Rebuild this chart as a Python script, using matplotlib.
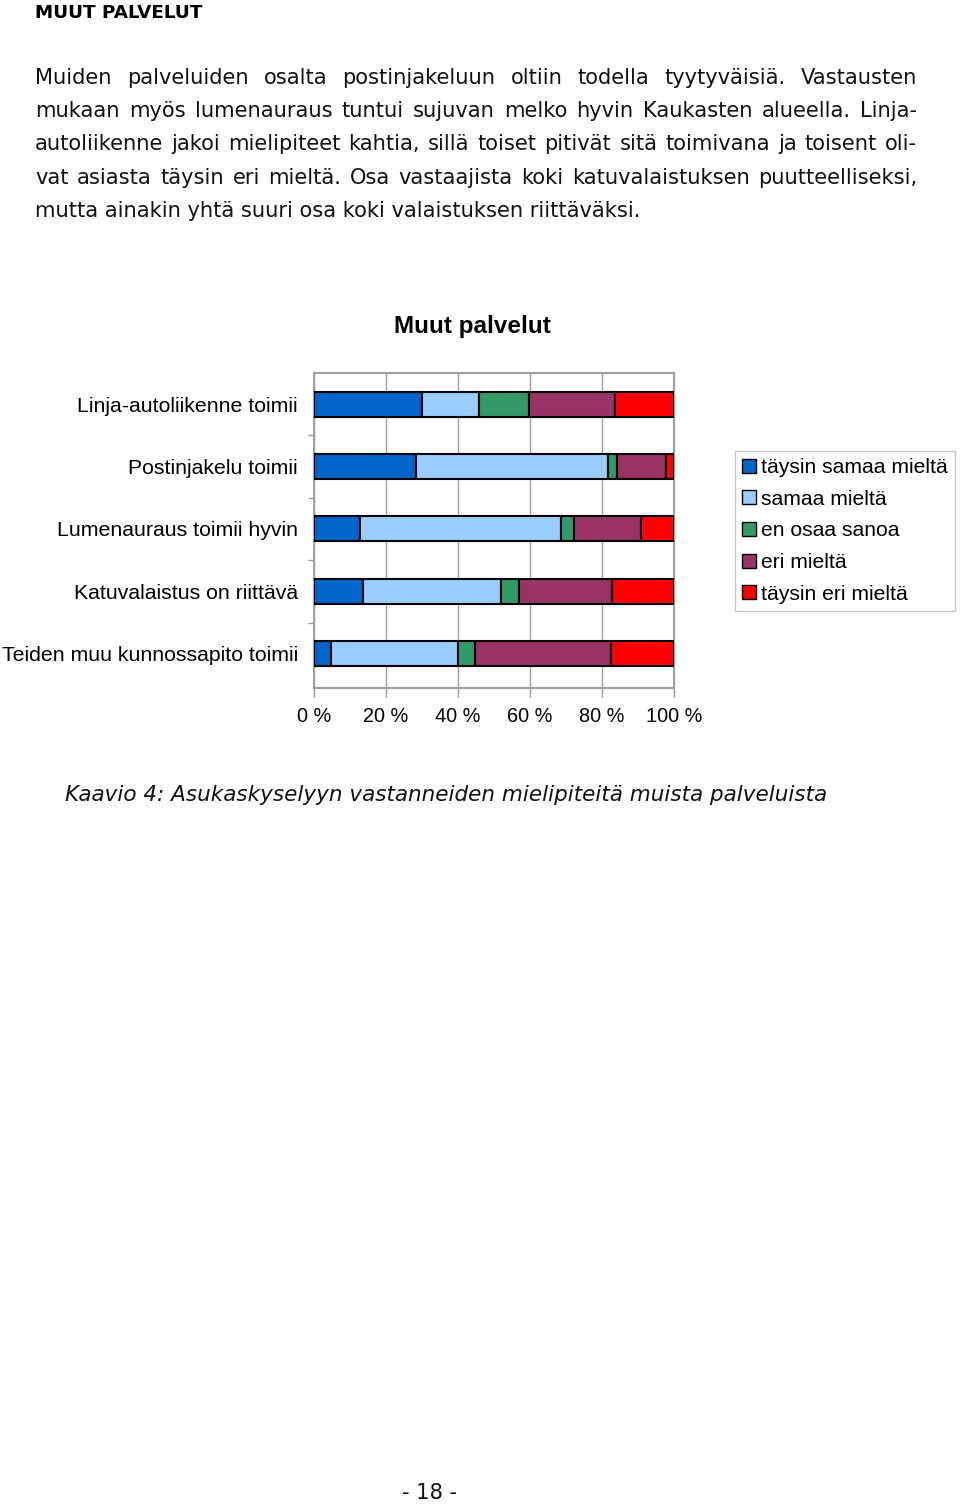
## Muut palvelut -kaavio (asukaskysely), sivu 18
import numpy as np
import matplotlib
matplotlib.use('Agg')
import matplotlib.pyplot as plt
from matplotlib.patches import Patch

# data
categories = ['Linja-autoliikenne toimii', 'Postinjakelu toimii', 'Lumenauraus toimii hyvin',
              'Katuvalaistus on riittävä', 'Teiden muu kunnossapito toimii']
series_names = ['täysin samaa mieltä', 'samaa mieltä', 'en osaa sanoa', 'eri mieltä', 'täysin eri mieltä']
tays_samaa = [30.1, 28.4, 12.9, 13.6, 4.6]
samaa = [15.7, 53.4, 55.7, 38.3, 35.3]
en_osaa = [13.9, 2.4, 3.6, 5.0, 4.9]
eri = [23.9, 13.7, 18.5, 26.0, 37.7]
tays_eri = [16.4, 2.1, 9.3, 17.1, 17.5]
xticks = [0, 20, 40, 60, 80, 100]
xtick_labels = ['0 %', '20 %', '40 %', '60 %', '80 %', '100 %']
colors = ['#0066CC', '#99CCFF', '#339966', '#993366', '#FF0000']

heading = 'MUUT PALVELUT'
body_lines = [
    'Muiden palveluiden osalta postinjakeluun oltiin todella tyytyväisiä. Vastausten',
    'mukaan myös lumenauraus tuntui sujuvan melko hyvin Kaukasten alueella. Linja-',
    'autoliikenne jakoi mielipiteet kahtia, sillä toiset pitivät sitä toimivana ja toisent oli-',
    'vat asiasta täysin eri mieltä. Osa vastaajista koki katuvalaistuksen puutteelliseksi,',
    'mutta ainakin yhtä suuri osa koki valaistuksen riittäväksi.',
]
chart_title = 'Muut palvelut'
caption = 'Kaavio 4: Asukaskyselyyn vastanneiden mielipiteitä muista palveluista'
page_no = '- 18 -'

W, H = 960, 1506
fig = plt.figure(figsize=(W / 100, H / 100), dpi=100)
fig.patch.set_facecolor('white')
renderer = fig.canvas.get_renderer()

def fx(px):
    return px / W

def fy(py):
    return 1 - py / H

body_font = 'DejaVu Sans'
arial = 'Liberation Sans'

# otsikko
fig.text(fx(35), fy(13), heading, fontsize=13.2, fontweight='bold', family=body_font,
         ha='left', va='center')

# leipäteksti, tasattu molempiin reunoihin (viimeinen rivi vasemmalle)
left_px, right_px = 35, 917
line_y = [78, 111, 144, 178, 211]
probe = fig.text(0, 0, body_lines[-1], fontsize=14, family=body_font)
w = probe.get_window_extent(renderer).width
probe.remove()
body_size = 14 * 608 / w

for i, line in enumerate(body_lines):
    words = line.split(' ')
    if i == len(body_lines) - 1:
        fig.text(fx(left_px), fy(line_y[i]), line, fontsize=body_size, family=body_font,
                 ha='left', va='center', color='#111111')
        continue
    objs = [fig.text(0, fy(line_y[i]), wd, fontsize=body_size, family=body_font,
                     ha='left', va='center', color='#111111') for wd in words]
    widths = [t.get_window_extent(renderer).width for t in objs]
    gap = (right_px - left_px - sum(widths)) / (len(words) - 1)
    x = left_px
    for t, wd in zip(objs, widths):
        t.set_x(fx(x))
        x += wd + gap

# kaavio
ax = fig.add_axes([fx(314), fy(688), fx(674) - fx(314), (688 - 373) / H])
y = np.arange(len(categories))
data = [tays_samaa, samaa, en_osaa, eri, tays_eri]
left = np.zeros(len(categories))
for vals, col, name in zip(data, colors, series_names):
    ax.barh(y, vals, left=left, height=0.4, color=col, edgecolor='black', linewidth=1.5,
            label=name, zorder=3)
    left += np.array(vals)

ax.set_xlim(0, 100)
ax.set_ylim(4.55, -0.5)
ax.set_xticks(xticks)
ax.set_xticklabels(xtick_labels, fontsize=14.3, family=arial)
ax.set_yticks(y)
ax.set_yticklabels(categories, fontsize=15.3, family=arial)
ax.set_yticks(y[:-1] + 0.5, minor=True)
ax.tick_params(axis='y', which='major', length=0, pad=11.5)
ax.tick_params(axis='y', which='minor', length=4.5, color='#999999', width=1)
ax.tick_params(axis='x', which='major', length=6.5, color='#999999', width=1, pad=7.5)
ax.xaxis.grid(True, color='#a0a0a0', linewidth=1, zorder=0)
for s in ax.spines.values():
    s.set_color('#a0a0a0')
    s.set_linewidth(1.5)

fig.text(fx(472), fy(326), chart_title, fontsize=17.5, fontweight='bold', family=arial,
         ha='center', va='center')

handles = [Patch(facecolor=c, edgecolor='black', linewidth=1) for c in colors]
leg = fig.legend(handles, series_names, loc='upper left',
                 bbox_to_anchor=(fx(735), fy(451)), prop={'family': arial, 'size': 15.2},
                 frameon=True, fancybox=False, edgecolor='#c8c8c8', framealpha=1,
                 handlelength=0.65, handleheight=0.65, handletextpad=0.25,
                 labelspacing=0.6, borderpad=0.33, borderaxespad=0)
leg.get_frame().set_linewidth(1)

fig.text(fx(65), fy(795), caption, fontsize=body_size * 1.02, style='italic', family=body_font,
         ha='left', va='center', color='#111111')
fig.text(fx(430), fy(1493), page_no, fontsize=body_size, family=body_font,
         ha='center', va='center', color='#111111')

fig.savefig('out.png', dpi=100)
